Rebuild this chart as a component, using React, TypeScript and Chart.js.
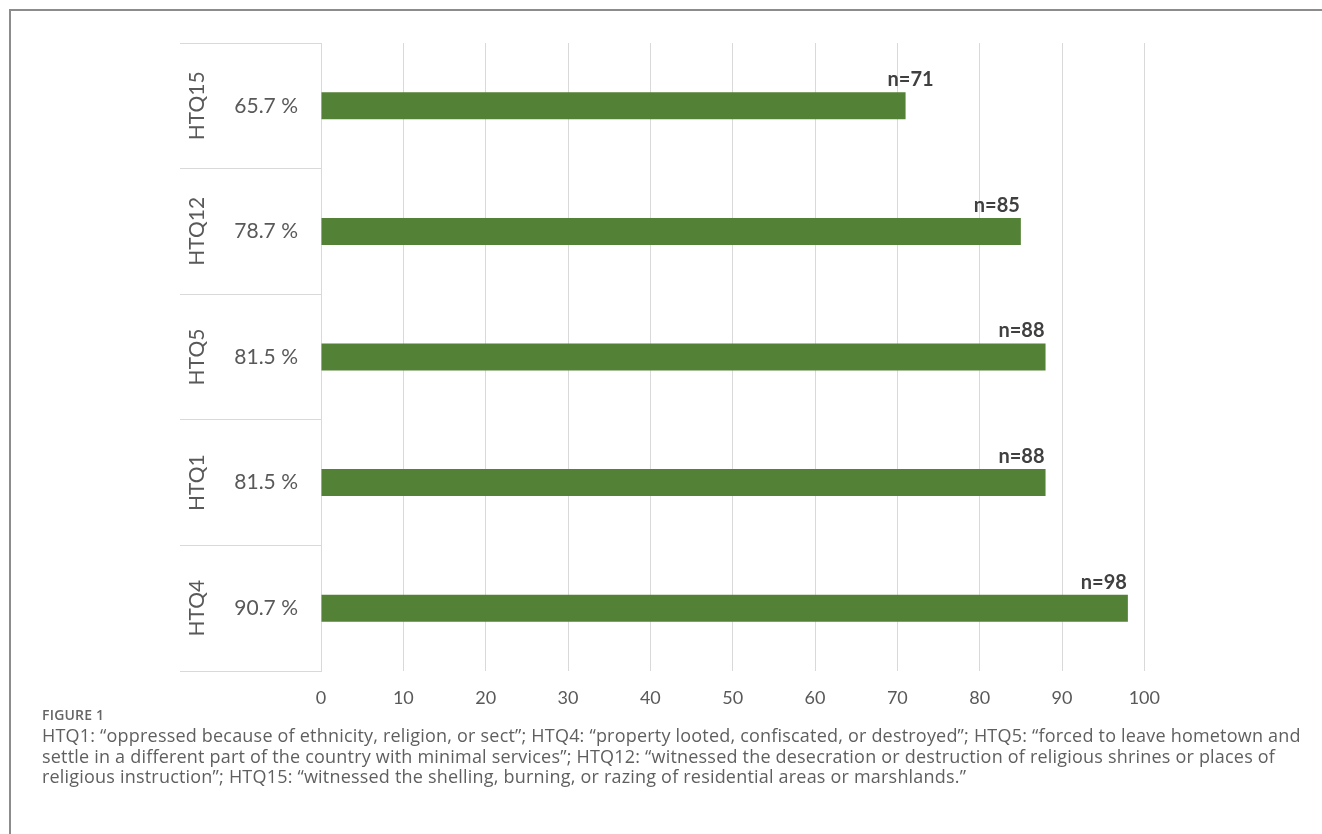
import React, { useEffect, useRef } from "react";
import { Chart, registerables } from "chart.js";

Chart.register(...registerables);

// ---- data ----
const categories = ["HTQ15", "HTQ12", "HTQ5", "HTQ1", "HTQ4"];
const percentLabels = ["65.7 %", "78.7 %", "81.5 %", "81.5 %", "90.7 %"];
const counts = [71, 85, 88, 88, 98];
const labelAlign = ["center", "right", "right", "right", "right"];
const xMin = 0;
const xMax = 100;
const xStep = 10;

const captionTitle = "FIGURE 1";
const captionLines = [
  "HTQ1: \u201coppressed because of ethnicity, religion, or sect\u201d; HTQ4: \u201cproperty looted, confiscated, or destroyed\u201d; HTQ5: \u201cforced to leave hometown and",
  "settle in a different part of the country with minimal services\u201d; HTQ12: \u201cwitnessed the desecration or destruction of religious shrines or places of",
  "religious instruction\u201d; HTQ15: \u201cwitnessed the shelling, burning, or razing of residential areas or marshlands.\u201d",
];

const FONT = "Lato, 'Open Sans', sans-serif";
const CAPTION_FONT = "'Open Sans', 'Noto Sans', sans-serif";

const leftLabelsPlugin = {
  id: "leftLabels",
  afterDraw(chart: any) {
    const ctx = chart.ctx;
    const yScale = chart.scales.y;
    const area = chart.chartArea;
    ctx.save();
    ctx.fillStyle = "#595959";
    categories.forEach((cat, i) => {
      const py = yScale.getPixelForValue(i);
      ctx.font = `400 21px ${FONT}`;
      ctx.textAlign = "right";
      ctx.textBaseline = "middle";
      ctx.fillText(percentLabels[i], area.left - 23, py);
      ctx.save();
      ctx.translate(area.left - 124, py);
      ctx.rotate(-Math.PI / 2);
      ctx.textAlign = "center";
      ctx.textBaseline = "middle";
      ctx.font = `400 21px ${FONT}`;
      ctx.fillText(cat, 0, 0);
      ctx.restore();
    });
    ctx.restore();
  },
};

const dataLabelPlugin = {
  id: "dataLabels",
  afterDatasetsDraw(chart: any) {
    const ctx = chart.ctx;
    const meta = chart.getDatasetMeta(0);
    ctx.save();
    ctx.fillStyle = "#404040";
    ctx.font = `700 20px ${FONT}`;
    ctx.textBaseline = "alphabetic";
    meta.data.forEach((bar: any, i: number) => {
      const { x, y, height } = bar.getProps(["x", "y", "height"], true);
      const text = `n=${counts[i]}`;
      const align = labelAlign[i];
      ctx.textAlign = align === "center" ? "center" : "right";
      const tx = align === "center" ? x + 5 : x - 1;
      ctx.fillText(text, tx, y - height / 2 - 6);
    });
    ctx.restore();
  },
};

function BarChart() {
  const ref = useRef<HTMLCanvasElement>(null);
  useEffect(() => {
    if (!ref.current) return;
    const chart = new Chart(ref.current, {
      type: "bar",
      data: {
        labels: categories,
        datasets: [
          {
            data: counts,
            backgroundColor: "#538135",
            borderWidth: 0,
            barPercentage: 0.215,
            categoryPercentage: 1,
          },
        ],
      },
      options: {
        indexAxis: "y",
        animation: false,
        responsive: false,
        devicePixelRatio: 1,
        layout: { padding: { left: 10, right: 26, top: 23, bottom: 9 } },
        plugins: {
          legend: { display: false },
          tooltip: { enabled: false },
          title: { display: false },
        },
        scales: {
          x: {
            min: xMin,
            max: xMax,
            ticks: {
              stepSize: xStep,
              color: "#595959",
              font: { family: FONT, size: 18 },
              padding: 16,
            },
            grid: { color: "#d9d9d9", drawTicks: false, lineWidth: 1 },
            border: { display: false },
            afterFit: (s: any) => {
              s.height = 40;
            },
          },
          y: {
            type: "category",
            ticks: { display: false },
            grid: {
              display: true,
              drawOnChartArea: false,
              drawTicks: true,
              tickLength: 141,
              color: "#d9d9d9",
              offset: true,
            },
            border: { display: true, color: "#d9d9d9" },
            afterFit: (s: any) => {
              s.width = 141;
            },
          },
        },
      },
      plugins: [leftLabelsPlugin, dataLabelPlugin],
    } as any);
    return () => chart.destroy();
  }, []);
  return <canvas ref={ref} width={1006} height={700} style={{ width: 1006, height: 700 }} />;
}

export default function App() {
  return (
    <div style={{ position: "relative", width: 1306, height: 818, background: "#fff" }}>
      <div
        style={{
          position: "fixed",
          left: 9,
          top: 9,
          right: -10,
          bottom: -10,
          borderTop: "2px solid #8c8c8c",
          borderLeft: "2px solid #8c8c8c",
          pointerEvents: "none",
        }}
      />
      <div style={{ position: "absolute", left: 162, top: 12 }}>
        <BarChart />
      </div>
      <div
        style={{
          position: "absolute",
          left: 34,
          top: 697,
          fontFamily: CAPTION_FONT,
          color: "#595959",
        }}
      >
        <div style={{ fontSize: 14, fontWeight: 600, color: "#666", lineHeight: "20px", letterSpacing: 0.2 }}>
          {captionTitle}
        </div>
        {captionLines.map((l, i) => (
          <div
            key={i}
            style={{ fontSize: 18, lineHeight: "20.5px", whiteSpace: "nowrap", color: "#5f5f5f", letterSpacing: 0.2 }}
          >
            {l}
          </div>
        ))}
      </div>
    </div>
  );
}
